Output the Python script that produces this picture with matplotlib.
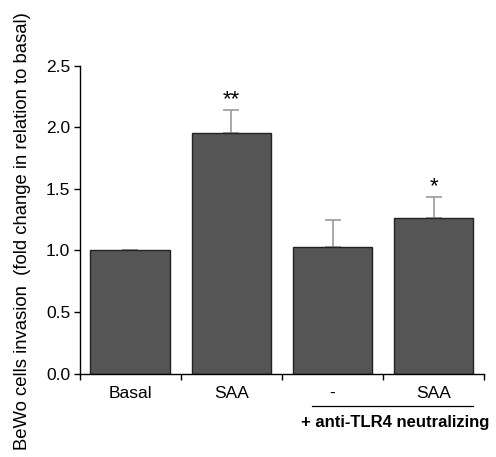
"""BeWo cell invasion bar chart (fold change vs basal)."""

import matplotlib

matplotlib.use("Agg")
import matplotlib.pyplot as plt

plt.rcParams["font.family"] = ["Liberation Sans", "DejaVu Sans"]

categories = ["Basal", "SAA", "-", "SAA"]
values = [1.0, 1.95, 1.03, 1.265]
errors = [0.0, 0.19, 0.22, 0.17]
stars = ["", "**", "", "*"]
bracket_label = "+ anti-TLR4 neutralizing"

fig = plt.figure(figsize=(4.96, 4.57), dpi=100)
ax = fig.add_axes([0.161, 0.1827, 0.815, 0.6735])

x = list(range(len(categories)))
ax.bar(x, values, width=0.79, color="#555555", edgecolor="#222222", linewidth=1, zorder=2)

# upward-only error bars in grey
ax.errorbar(
    x, values, yerr=[[0] * len(errors), errors], fmt="none",
    ecolor="#9a9a9a", elinewidth=1.2, capsize=6, capthick=1.2, zorder=1,
)

for xi, v, e, s in zip(x, values, errors, stars):
    if s:
        ax.annotate(s, (xi, v + e), xytext=(0, 0), textcoords="offset points",
                    ha="center", va="bottom", fontsize=16)

ax.set_xlim(-0.5, 3.5)
ax.set_ylim(0, 2.5)
ax.set_yticks([0, 0.5, 1.0, 1.5, 2.0, 2.5])
ax.set_yticklabels(["0.0", "0.5", "1.0", "1.5", "2.0", "2.5"])
ax.set_xticks(x)
ax.set_xticklabels(categories)
ax.set_xticks([-0.5, 0.5, 1.5, 2.5, 3.5], minor=True)
ax.tick_params(axis="x", which="major", length=0, pad=9, labelsize=12.5)
ax.tick_params(axis="x", which="minor", length=4, width=1, direction="out")
ax.tick_params(axis="y", length=4, width=1, direction="out", labelsize=12.5, pad=3)

for side in ("top", "right"):
    ax.spines[side].set_visible(False)
for side in ("left", "bottom"):
    ax.spines[side].set_linewidth(1)

ax.set_ylabel("BeWo cells invasion  (fold change in relation to basal)", fontsize=13.3)
ax.yaxis.set_label_coords(-0.12, 0.463)

# bracket under the two treated groups
trans = ax.get_xaxis_transform()
ax.plot([1.8, 3.39], [-0.105, -0.105], color="black", linewidth=0.9,
        transform=trans, clip_on=False)
ax.text(2.62, -0.16, bracket_label, transform=trans, ha="center", va="center",
        fontsize=12, fontweight="bold")

fig.savefig("out.png", dpi=100)
